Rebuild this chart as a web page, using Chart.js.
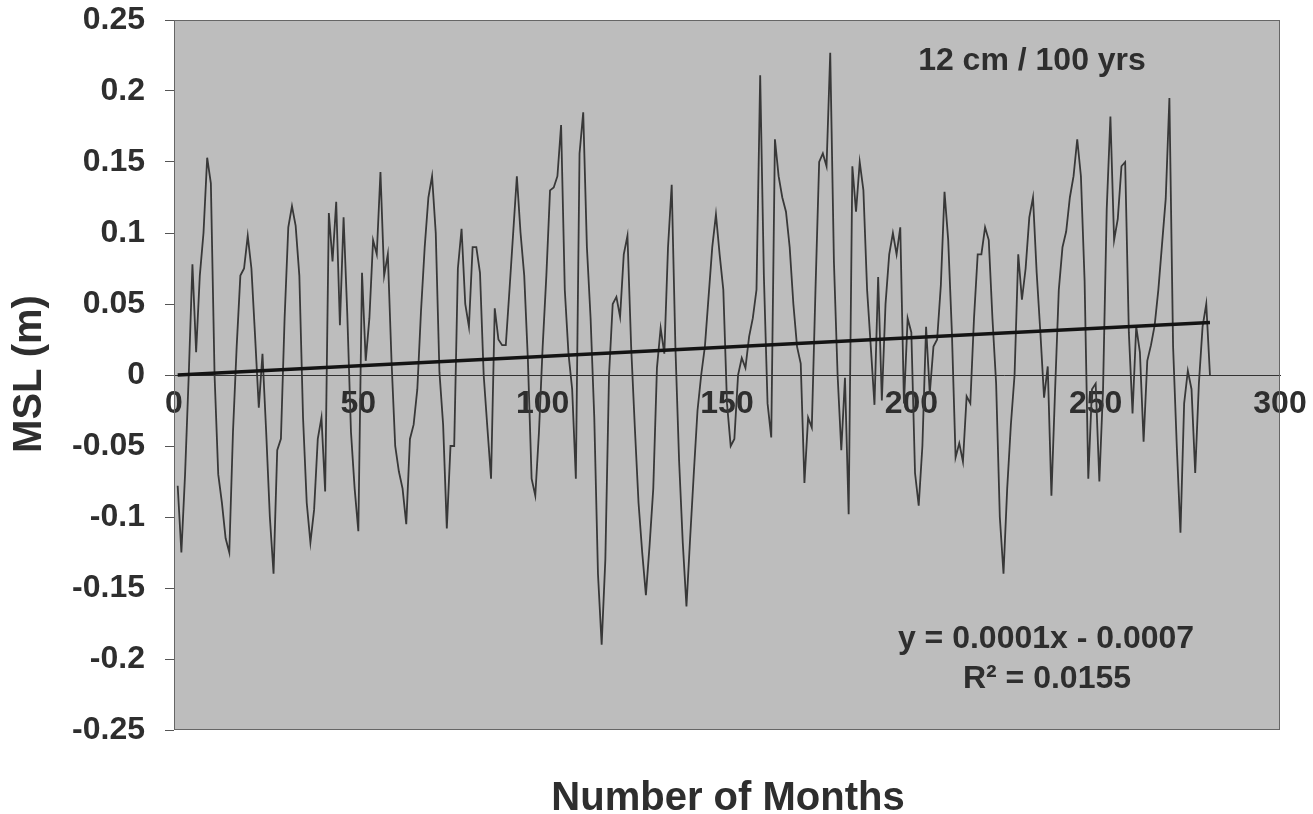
<!DOCTYPE html>
<html><head><meta charset="utf-8">
<script src="https://cdn.jsdelivr.net/npm/chart.js@4.4.1/dist/chart.umd.min.js"></script>
<style>html,body{margin:0;padding:0;background:#fff}canvas{display:block}</style>
</head><body>
<canvas id="c" width="1313" height="814"></canvas>
<script>
const months = [
1,2,3,4,5,6,7,8,9,10,11,12,13,14,15,16,17,18,19,20,21,22,23,24,25,26,27,28,29,30,
31,32,33,34,35,36,37,38,39,40,41,42,43,44,45,46,47,48,49,50,51,52,53,54,55,56,57,58,59,60,
61,62,63,64,65,66,67,68,69,70,71,72,73,74,75,76,77,78,79,80,81,82,83,84,85,86,87,88,89,90,
91,92,93,94,95,96,97,98,99,100,101,102,103,104,105,106,107,108,109,110,111,112,113,114,115,116,117,118,119,120,
121,122,123,124,125,126,127,128,129,130,131,132,133,134,135,136,137,138,139,140,141,142,143,144,145,146,147,148,149,150,
151,152,153,154,155,156,157,158,159,160,161,162,163,164,165,166,167,168,169,170,171,172,173,174,175,176,177,178,179,180,
181,182,183,184,185,186,187,188,189,190,191,192,193,194,195,196,197,198,199,200,201,202,203,204,205,206,207,208,209,210,
211,212,213,214,215,216,217,218,219,220,221,222,223,224,225,226,227,228,229,230,231,232,233,234,235,236,237,238,239,240,
241,242,243,244,245,246,247,248,249,250,251,252,253,254,255,256,257,258,259,260,261,262,263,264,265,266,267,268,269,270,
271,272,273,274,275,276,277,278,279,280,281];

const msl = [
-0.078,-0.125,-0.07,0.0,0.078,0.016,0.07,0.1,0.153,0.135,
0.0,-0.07,-0.09,-0.115,-0.125,-0.04,0.02,0.07,0.075,0.098,
0.075,0.027,-0.023,0.015,-0.04,-0.10,-0.14,-0.053,-0.045,0.04,
0.104,0.119,0.105,0.07,-0.03,-0.09,-0.118,-0.095,-0.045,-0.03,
-0.082,0.114,0.08,0.122,0.035,0.111,0.043,-0.04,-0.08,-0.11,
0.072,0.01,0.04,0.095,0.085,0.143,0.07,0.085,0.01,-0.05,
-0.068,-0.08,-0.105,-0.045,-0.035,-0.01,0.045,0.09,0.125,0.14,
0.1,0.002,-0.035,-0.108,-0.05,-0.05,0.075,0.103,0.05,0.034,
0.09,0.09,0.072,0.0,-0.037,-0.073,0.047,0.025,0.021,0.021,
0.06,0.1,0.14,0.1,0.07,0.01,-0.073,-0.085,-0.04,0.02,
0.07,0.13,0.132,0.14,0.176,0.06,0.015,-0.01,-0.073,0.156,
0.185,0.09,0.04,-0.03,-0.14,-0.19,-0.13,0.0,0.05,0.055,
0.041,0.085,0.098,0.02,-0.037,-0.09,-0.125,-0.155,-0.12,-0.08,
0.005,0.033,0.015,0.09,0.134,0.02,-0.06,-0.118,-0.163,-0.115,
-0.069,-0.025,0.0,0.02,0.055,0.09,0.113,0.085,0.06,-0.02,
-0.05,-0.045,0.0,0.012,0.005,0.027,0.04,0.06,0.211,0.07,
-0.02,-0.044,0.166,0.14,0.125,0.115,0.09,0.05,0.02,0.008,
-0.076,-0.03,-0.037,0.06,0.15,0.156,0.147,0.227,0.08,0.0,
-0.053,-0.002,-0.098,0.147,0.115,0.15,0.13,0.06,0.02,-0.021,
0.069,-0.018,0.05,0.085,0.1,0.085,0.104,-0.02,0.04,0.03,
-0.069,-0.092,-0.05,0.034,-0.013,0.02,0.025,0.063,0.129,0.095,
0.03,-0.058,-0.048,-0.061,-0.015,-0.02,0.04,0.085,0.085,0.104,
0.095,0.04,-0.006,-0.10,-0.14,-0.08,-0.035,0.0,0.085,0.053,
0.075,0.111,0.125,0.072,0.03,-0.016,0.006,-0.085,-0.01,0.06,
0.09,0.101,0.125,0.14,0.166,0.14,0.066,-0.073,-0.01,-0.006,
-0.075,-0.01,0.117,0.182,0.095,0.11,0.147,0.15,0.03,-0.027,
0.034,0.016,-0.047,0.01,0.021,0.035,0.06,0.092,0.124,0.195,
0.02,-0.05,-0.111,-0.02,0.003,-0.01,-0.069,-0.006,0.034,0.05,
0.0];

const trendMonths = [1, 281];
const trendValues = [0.0, 0.037];

const xTickLabels = ['0','50','100','150','200','250','300'];
const yTickLabels = ['-0.25','-0.2','-0.15','-0.1','-0.05','0','0.05','0.1','0.15','0.2','0.25'];

const rateText = '12 cm / 100 yrs';
const equationText = 'y = 0.0001x - 0.0007';
const r2Text = 'R\u00B2 = 0.0155';
const xTitle = 'Number of Months';
const yTitle = 'MSL (m)';

const FONT = '"Liberation Sans", Arial, sans-serif';
const TEXT = '#2e2e2e';

const seriesPoints = months.map((m, i) => ({x: m, y: msl[i]}));
const trendPoints = trendMonths.map((m, i) => ({x: m, y: trendValues[i]}));

function zeroPad(s) {
  s.paddingLeft = 0; s.paddingRight = 0; s.paddingTop = 0; s.paddingBottom = 0;
}

const framePlugin = {
  id: 'frame',
  beforeDraw(chart) {
    const {ctx, chartArea: a} = chart;
    ctx.save();
    ctx.fillStyle = '#bdbdbd';
    ctx.fillRect(a.left, a.top, a.right - a.left, a.bottom - a.top);
    ctx.restore();
  },
  afterDraw(chart) {
    const {ctx, chartArea: a} = chart;
    ctx.save();
    ctx.strokeStyle = '#666';
    ctx.lineWidth = 1;
    ctx.strokeRect(a.left + 0.5, a.top + 0.5, a.right - a.left - 1, a.bottom - a.top - 1);
    ctx.fillStyle = TEXT;
    ctx.textAlign = 'center';
    ctx.textBaseline = 'alphabetic';
    ctx.font = 'bold 32px ' + FONT;
    ctx.fillText(rateText, 1032, 70);
    ctx.fillText(equationText, 1046, 648);
    ctx.fillText(r2Text, 1047, 688);
    ctx.font = 'bold 40px ' + FONT;
    ctx.fillText(xTitle, 728, 810);
    ctx.translate(30, 374);
    ctx.rotate(-Math.PI / 2);
    ctx.textBaseline = 'middle';
    ctx.fillText(yTitle, 0, 0);
    ctx.restore();
  }
};

new Chart(document.getElementById('c'), {
  type: 'line',
  data: {
    datasets: [
      {
        label: 'Linear trend',
        data: trendPoints,
        borderColor: '#141414',
        borderWidth: 3.5,
        pointRadius: 0,
        tension: 0
      },
      {
        label: 'MSL',
        data: seriesPoints,
        borderColor: '#383838',
        borderWidth: 1.8,
        pointRadius: 0,
        tension: 0
      }
    ]
  },
  options: {
    responsive: false,
    animation: false,
    devicePixelRatio: 1,
    layout: {padding: {left: 0, top: 20, right: 33, bottom: 84}},
    plugins: {legend: {display: false}, tooltip: {enabled: false}},
    scales: {
      x: {
        type: 'linear',
        position: {y: 0},
        min: 0, max: 300,
        afterFit: zeroPad,
        ticks: {
          stepSize: 50,
          autoSkip: false,
          maxRotation: 0,
          padding: 10,
          color: TEXT,
          font: {family: FONT, size: 32, weight: 'bold'},
          callback: (v, i) => xTickLabels[i]
        },
        grid: {display: true, drawOnChartArea: false, drawTicks: false},
        border: {display: true, color: '#333', width: 1}
      },
      y: {
        type: 'linear',
        position: 'left',
        min: -0.25, max: 0.25,
        afterFit: (s) => { s.width = 174; zeroPad(s); },
        ticks: {
          stepSize: 0.05,
          padding: 20,
          color: TEXT,
          font: {family: FONT, size: 32, weight: 'bold'},
          callback: (v, i) => yTickLabels[i]
        },
        grid: {display: true, drawOnChartArea: false, drawTicks: true, tickLength: 9, color: '#555'},
        border: {display: false}
      }
    }
  },
  plugins: [framePlugin]
});
</script>
</body></html>
